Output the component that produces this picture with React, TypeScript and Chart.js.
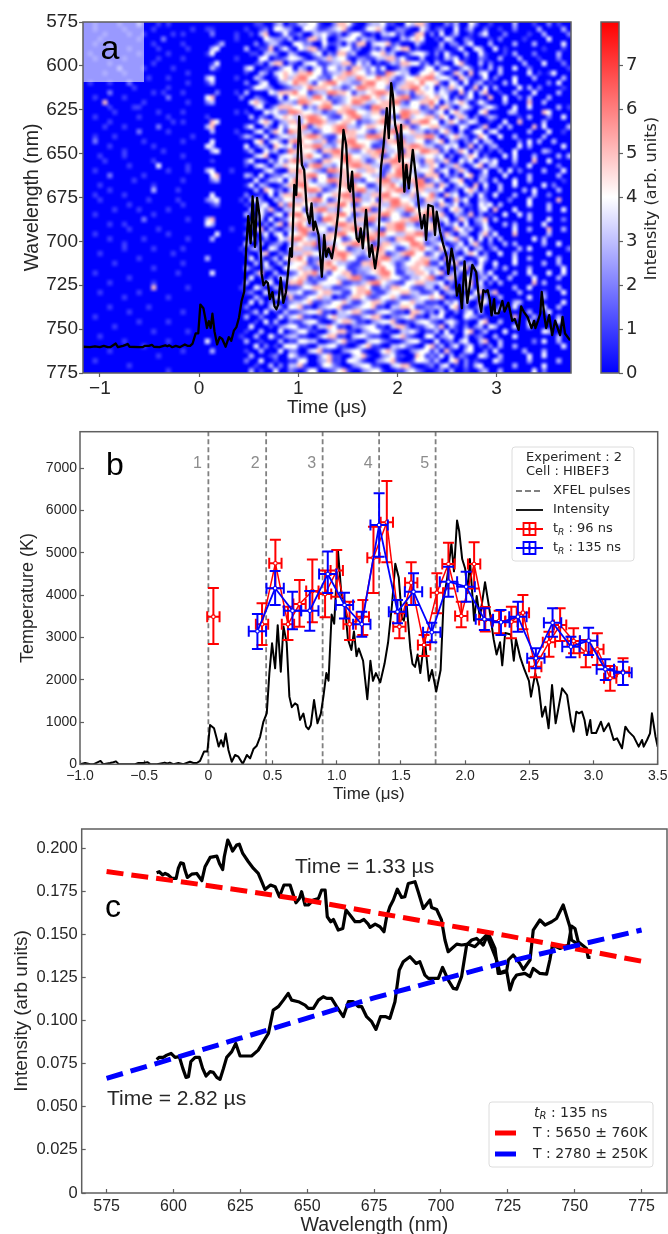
import React, { useEffect, useRef } from 'react';
import { Chart, registerables } from 'chart.js';

Chart.register(...registerables);

// ---------- shared intensity trace (panels a and b) ----------
const traceTime = [
  -1.17,-1.10,-1.05,-1,-.96,-.92,-.896,-.84,-.818,-.766,-.74,-.72,-.70,-.6,-.57,-.545,-.506,-.475,-.455,-.40,-.34,-.32,-.30,-.27,-.234,-.195,-.143,-.117,-.09,-.065,-.034,-.008,
  .013,.044,.065,.08,.099,.117,.135,.156,.182,.208,.234,.268,.30,.325,.351,.377,.403,.429,.455,.475,.496,.52,.54,.564,.585,.61,.631,.65,.675,.694,.714,.74,.761,.78,.798,.823,.85,.876,.896,
  .919,.936,.96,.98,1.01,1.037,1.06,1.087,1.114,1.134,1.154,1.171,1.205,1.238,1.262,1.282,1.305,1.339,1.372,1.40,1.43,1.456,1.483,1.507,1.523,1.543,1.573,1.59,1.61,1.63,1.651,1.684,1.718,1.742,1.775,1.809,1.833,1.859,1.893,1.913,1.937,1.954,1.977,2.0,2.02,2.037,2.07,2.09,2.115,2.155,2.188,2.222,2.245,2.272,2.289,2.312,2.356,2.379,2.396,2.43,2.463,2.497,
  2.513,2.546,2.573,2.6,2.625,2.65,2.677,2.705,2.755,2.794,2.825,2.845,2.866,2.887,2.91,2.93,2.949,2.975,2.985,3.02,3.058,3.08,3.118,3.157,3.183,3.222,3.248,3.274,3.313,3.352,3.378,3.391,3.417,3.44,3.455,3.483,3.5,3.53,3.56,3.59,3.64,3.665,3.69,3.74,
];
const traceIntensity = [
  10,0,20,0,30,0,0,80,0,30,50,70,10,0,0,30,30,50,10,0,40,20,40,0,30,0,60,30,30,80,300,300,
  930,850,610,420,570,420,730,340,60,220,180,10,220,140,360,440,650,1010,1210,2150,2860,2270,3290,2190,3260,2870,1600,1350,1440,1400,1050,1200,890,830,930,1520,970,1200,1600,
  2157,1975,3542,3323,5036,3980,3870,2959,2704,3141,2558,2740,2449,1538,2449,1975,2157,1939,2376,2886,3761,4745,4417,3469,3397,3834,2740,2376,2303,2595,2157,2996,1975,2230,1720,2230,3907,4380,5219,4563,5765,5510,4854,4630,4052,4854,3397,3980,3469,4307,3688,2959,2595,2886,2340,3105,3068,2449,2959,2522,2230,1975,
  1600,2151,1836,1127,1363,851,1875,969,1797,1639,1009,772,1245,1205,1245,1048,693,1048,740,740,1008,780,969,575,615,378,890,772,654,417,575,417,575,730,1205,654,417,700,262,580,262,662,300,153,
];
const traceBaselineNm = 760.3;
const traceNmPerCount = 0.0261;

// ---------- panel a ----------
const heatRows = [
  "00100001000200010100000 000000 0000 001100230 113344100255410023341100435520 002130042001 0000300010020100",
  "00100000100000100000001 001100 0000 100120443 200443112345100144530022100420 120040130020 0100200003000030",
  "00001000010010000010100 000200 0010 010350014 112003342120244101033412015502 040130010240 0020000100300002",
  "00010000000100002000000 000000 0010 000043221 301155240023441322011003245400 104300210001 0200001000040000",
  "00100100000000100000100 000013 0000 002013310 044220041120315503445120003100 030220240003 0000300030000040",
  "00000010010000010000010 000340 0000 300115024 104355120034412002130245501000 120014004300 4010000000100010",
  "01000000000100000100000 001400 0000 011033200 320013402155230014452300134420 204100300410 0010300020000300",
  "00100000100000010000100 000000 0010 000440112 443101235344102211335524100300 103240100210 0300030001000200",
  "00000100000000100000000 000140 0000 001203550 210344112335514230101325544120 310045100302 0000003000400020",
  "00000002000010000010000 000310 0000 340011024 403203414423155324140013200144 034102420103 0300400200000001",
  "00001000100000000000010 000000 0000 100320345 435564412335654423116543301445 420153050340 0300000401014000",
  "00000000000001000100000 003400 0010 003200145 356644221455336544655312445566 344205310140 2000400030000030",
  "01000100020000000000010 001300 0000 200340023 465531456643322566445123554644 510430402301 0030400000020400",
  "00000000001000000100000 000000 0000 014432001 233465554331246655442135566434 032534015040 3000040302000010",
  "00000200000000101000100 000020 0010 300004355 564412336655413345665422315544 243105140350 0100300040000300",
  "00100000100000000200000 004500 0002 002100140 445536641223455664534456612354 534020240105 0040020300030000",
  "00005000000010000000010 002300 0000 045310023 326654455123466533455662144556 403245301420 0030000500300000",
  "00000100001100000000000 000000 0000 003401355 544132566445533216655443344125 155203420134 2000400400000301",
  "00000010000000010000100 000000 0010 100043422 665443312255664435513446655321 340453100450 0003300000540000",
  "00100000000100000100000 001000 0000 030210345 433566542114566334455216634455 254035302013 2000010300020040",
  "00000100000000000010100 000540 0000 001453023 552466653345541223566443155664 403541243001 0040050000300000",
  "00001000100000020000000 003500 0000 240031042 445613544566332455443366512445 532104300250 0303000050400003",
  "00000000000200000100000 000300 0010 003402541 655331244566554421355664453312 145203014403 4000000300040010",
  "00100010000000000000001 000000 0001 320040134 334566521144553366655412335566 302453201540 0400300000300000",
  "00200000000010000000100 000400 0000 004503420 566443351255664443215566334412 450320214033 0000020403003000",
  "00000100000000100000000 004300 0000 401320543 414556633245566541123445566533 124340150302 3000040300000040",
  "00000000100000001000000 000340 0000 130042301 655443155664322455663341554665 513025403101 0200400000320000",
  "00010000100000000000100 000000 0000 003450034 433564412556644335512466553344 340201354020 0040400030000303",
  "00001000000000100000000 000100 0000 240003142 566332155446655312455664433155 235104240342 4000300050040000",
  "00000000010000040000010 000000 0000 103420335 444156633244566553321556644235 402352014503 3000100400000200",
  "00100000000000000100010 003400 0100 000034100 556443216655443355412466533445 134025300140 0304020000300040",
  "00000200000010000000000 000450 0000 320401224 335566441235566443315566442155 503120450230 0040000300000300",
  "00000000001000000000100 000230 0000 004013340 465531446655322144566334556612 420345010320 3000400300000010",
  "00010000000000100000000 000000 0000 140320013 556644332155664411355642236655 153024205040 0300400000402000",
  "00000100000000300001000 000000 0000 003054120 344566512344556633245566145533 340120453020 0300003040000300",
  "00100000100000000000000 000400 0000 200104035 566433144556621335566443352446 205340130410 4000300030020000",
  "00010000000001000001000 002340 0001 034200324 433556641245566334155664432155 340152400320 0002000400000500",
  "00000000010000000000100 000120 0000 101340052 655442335566412445533665541233 153240210434 0300000400030000",
  "00000010000100000100000 000000 0000 030425103 344155663324455661245533664455 320453010340 5000400000030040",
  "00100000000000100000000 000000 0000 300410340 566433245566412335566442135566 451032150201 0040040300000000",
  "00000000000020000000010 003500 0000 002304012 445533166544235566312445566341 234015302350 3000000300040020",
  "00000100100000000000000 004300 0000 140020350 556412334566553312445566331245 503240401240 0030300000400000",
  "00000000010000010000000 000000 0100 003503102 336655441235566443215566443345 320154230142 0000400300050030",
  "00100000000000000100000 000040 0000 200140340 445621335566442155664433556612 415203300351 4000500000030000",
  "00000100000010000000010 000300 0000 031020043 566433155441245566332155664423 203451140403 0300000040300000",
  "00000000100000000000000 000000 0000 400301220 334556123345566441255334466512 340124035102 0030300000300400",
  "00000000100000100000100 000000 0001 023004300 455332156644123356654411355643 154032402301 3000030400000002",
  "00010000000000000010000 000000 0000 100350021 233554411566533244551235664412 420310354020 0400300000040000",
  "00000000000100000000000 003000 0000 040201304 556412233556441125566332144553 305124001430 0000400300000300",
  "00000010000000000000100 000000 0000 003040130 344512556433211556644312445561 140350230410 4000400000300300",
  "00000000000000100000000 000000 0000 310032004 445331255644112335564412355433 302014503400 2030000300000040",
  "00100000000000000001000 000400 0000 002500300 124556331445512234566411335542 450231020314 0000300400040040",
  "00000000010000000000000 000000 0000 040102043 345512114433566211355442133456 103520430230 4003000040000300",
  "00000100000000100000000 000000 0000 300034001 556321344451122356643211445533 340201350402 0300000050300000",
  "00000000000000500000010 000000 0001 004200320 112445533112345541132554421133 035100430310 0000300400000300",
  "00010000000100000000000 000000 0000 120040015 334112455331145562113445533112 402320104502 5000030000200040",
  "00000000100000000100000 000000 0000 003100340 511244533011355421244531123445 450100342030 0300000400300000",
  "00000000000000000000000 000000 0000 040302001 233451122445311345531124453311 103240300540 0000330000000040",
  "00000100000001000000000 000000 0000 200003420 445110234451123445110335541122 320450201300 0300400000400300",
  "00000000010000000000100 000000 0000 013040103 112344511033455211344211055312 041020340300 4000000300040000",
  "00100000000000000000000 000000 0000 300200041 345110114533211345510223451103 340100432010 0000500030000300",
  "00000000000100000100000 000000 0000 001040300 211344100245531102344510113442 103420100450 0300000400000400",
  "00000010000000000000000 000000 0000 040001023 441120335411022344110355201134 250310202304 3000400300000000",
  "00000000000000100000010 000000 0000 100300040 124411003455110234411003342011 304010450130 0040000000430000",
  "00010000000000000000000 000000 0001 003004102 331100245511034421100345210044 023400301200 3000400000000300",
  "00000000100000000100000 004000 0000 300100030 114433001245110034421001344100 401203400350 0300000020400300",
  "00000000000010000000000 000000 0000 004020104 441100334411002451100334210045 130240240102 0300300000000040",
  "00000100000000000000100 000300 0000 100300040 220034511002344100145310023441 305100340020 4000003000300000",
  "00000000000000010000000 000000 0000 030001200 431100245110034510023411005412 140302100430 0300000400400000",
  "00100000000000000000000 000000 0000 200400100 114400235110443100234510014431 300450201000 4200000300000300",
  "00000000010000000000000 000000 0000 001003020 335100144210023441100345510012 034010203400 0000300000400000",
  "00000000000000000100000 000000 0000 030100400 210144001245100234410011342100 120300100230 0300000040200000",
];
const heatTimeRange = [-1.17, 3.75];
const heatNmRange = [575, 775];
const heatWhiteAt = 4;
const heatMax = 7.98;
const aTimeTicks = [-1, 0, 1, 2, 3];
const aTimeLabels = ['\u22121', '0', '1', '2', '3'];
const aNmTicks = [575, 600, 625, 650, 675, 700, 725, 750, 775];
const cbarTicks = [0, 1, 2, 3, 4, 5, 6, 7];
const cbarRange = [[0, heatMax]];

// ---------- panel b ----------
const pulseTimes = [0, 0.45, 0.89, 1.33, 1.77];
const pulseNames = ['1', '2', '3', '4', '5'];
const redTime = [.039,.418,.522,.62,.71,.81,.909,1.0,1.10,1.203,1.286,1.39,1.488,1.58,1.68,1.78,1.87,1.97,2.07,2.157,2.265,2.36,2.45,2.546,2.653,2.74,2.845,2.94,3.03,3.13,3.23];
const redTemp = [3490,3310,4752,3310,3790,4097,4027,4580,3310,3491,4886,5722,3255,4295,2821,4058,4737,3507,4737,3412,3388,3373,3586,2309,2884,3294,2916,2640,2719,2033,2190];
const redHigh = [4170,3806,5311,3727,4358,4840,4580,5068,3845,3885,5620,6699,3570,4776,3057,4516,5240,3845,5250,3720,3633,3727,4003,2545,3136,3688,3215,2939,3097,2325,2506];
const redLow = [2845,2821,4162,2939,3254,3357,3475,3963,2939,3057,4050,4776,2979,3767,2561,3570,4160,3239,4160,3140,3097,2979,3191,2057,2545,2916,2624,2293,2348,1742,1875];
const redHalfWidth = 0.048;
const blueTime = [.382,.52,.655,.79,.93,1.06,1.195,1.33,1.473,1.598,1.74,1.87,2.008,2.15,2.279,2.411,2.551,2.681,2.824,2.962,3.092,3.23];
const blueTemp = [3144,4162,3633,3633,4500,3767,3310,5658,3609,4082,3120,4319,4200,3428,3357,3491,2506,3349,2782,2924,2246,2167];
const blueHigh = [3554,4570,4082,4100,5030,4058,3610,6408,3885,4516,3349,4673,4555,3688,3648,3845,2742,3688,3018,3231,2482,2427];
const blueLow = [2727,3767,3191,3160,4050,3450,3018,4910,3333,3767,2884,3963,3845,3176,3057,3136,2270,3018,2530,2585,1994,1875];
const blueHalfWidth = 0.0675;
const bTimeTicks = [-1, -0.5, 0, 0.5, 1, 1.5, 2, 2.5, 3, 3.5];
const bTimeLabels = ['\u22121.0', '\u22120.5', '0', '0.5', '1.0', '1.5', '2.0', '2.5', '3.0', '3.5'];
const bTempTicks = [0, 1000, 2000, 3000, 4000, 5000, 6000, 7000];

// ---------- panel c ----------
const hotNm = [593.7,594.7,596,596.9,598.1,599.4,601,601.8,602.7,603.7,604.3,605.2,606.8,608.7,610.6,611.8,613.7,616.2,617.2,618.4,619,620.3,621.2,622.1,623.6,624.6,625.9,628,629.9,631.7,633,634.2,636.3,638,639.6,641.3,643.6,644.8,645.8,647.1,647.9,649.2,650.4,652.3,654.2,655.4,656.7,657.5,658.8,659.8,661.6,663.3,664.5,666,667.9,669.7,671.2,672.8,673.5,675.4,677.2,678.7,679.7,680.9,682.2,683.7,685.3,686.5,687.8,690.3,691.5,693.4,695.9,696.5,698.4,700.2,701.5,702.7,705.9,707.7,710.2,712.7,717.1,720.8,722.1,724.6,725.8,727,728.3,731.4,733.3,734.5,737,739.5,740.7,741.7,744.5,747.6,748.8,750.1,751.3,754.4,755,755.9];
const hotI = [.1858,.1864,.1845,.1854,.1845,.1825,.1825,.1883,.1916,.1912,.1874,.1831,.185,.1854,.1812,.1893,.1947,.1955,.1912,.1877,.1951,.2048,.2019,.1984,.2019,.2024,.197,.1922,.1883,.1854,.1806,.1761,.1787,.1777,.1719,.1787,.1787,.1729,.1684,.1709,.1748,.1671,.1671,.17,.1709,.1758,.1758,.1603,.1574,.1587,.1526,.1535,.1642,.1613,.1574,.1574,.1587,.156,.1541,.156,.1545,.1516,.1603,.1661,.17,.1763,.1715,.1719,.1796,.1806,.1748,.1651,.17,.1657,.1645,.1584,.1468,.14,.1444,.1439,.1444,.1429,.1497,.1352,.1274,.1284,.1178,.1236,.1265,.1274,.1255,.1303,.1274,.127,.1352,.1439,.1419,.1439,.1549,.1535,.1458,.1419,.1367,.1367];
const coolNm = [593.7,594.7,596.2,597.5,599.1,600.6,602.2,603.5,604.7,605.6,606.5,608.1,609.7,610.9,612.2,613.7,614.9,616.2,617.4,618.7,619.9,621.8,623.3,624.9,627.4,629.2,631.7,633.6,635.5,637.3,639.2,641.1,642.9,644.2,646.7,649.2,650.4,652.3,654.2,656,657.3,659.1,661,663.5,665.4,667.2,669.1,670.4,672.2,674.1,675.7,677.4,679.4,680.9,682.8,684.4,685.9,688.4,690.7,692.1,694,695.3,699,700.6,702.7,704.6,705.9,707.7,709.6,711.5,713.3,715.8,717.7,720.2,721.4,724.6,725.2,727,729.5,730.8,733.3,734.5,737,738.9,741.4,743.2,745.7,748.2,748.8,750.7];
const coolI = [.0775,.0787,.0787,.08,.081,.0787,.0791,.0723,.0671,.0675,.0762,.0787,.0787,.0723,.0679,.0704,.07,.0671,.0659,.0723,.0787,.082,.0868,.0795,.0795,.0795,.0829,.0878,.0926,.1061,.1081,.1119,.1158,.1119,.111,.109,.1071,.1071,.1119,.1139,.1129,.1129,.1081,.1023,.111,.111,.1081,.1081,.1023,.0994,.0949,.1023,.1023,.1013,.111,.1293,.1342,.1371,.1332,.1342,.1264,.1245,.1245,.1309,.1236,.1187,.1183,.1255,.1439,.1468,.1477,.1439,.1506,.1419,.1274,.1293,.1352,.1381,.1332,.1297,.1352,.1525,.1584,.1555,.1574,.1593,.1671,.1545,.1468,.1448];
const fitNm = [575, 600, 625, 650, 675, 700, 725, 750, 775];
const hotFit = [.1865,.1812,.1757,.1698,.1628,.156,.1492,.1418,.1345];
const coolFit = [.0665,.0781,.0898,.1015,.1132,.1238,.1342,.1434,.1526];
const cNmTicks = [575, 600, 625, 650, 675, 700, 725, 750, 775];
const cITicks = [0, .025, .05, .075, .1, .125, .15, .175, .2];
const cILabels = ['0', '0.025', '0.050', '0.075', '0.100', '0.125', '0.150', '0.175', '0.200'];

// ---------- helpers ----------
const SANS = '"Liberation Sans", Arial, sans-serif';
const DEJA = '"DejaVu Sans", sans-serif';
const INK = '#262626';
const SPINE = '#5f5f5f';
const pts = (xs: number[], ys: number[]) => xs.map((x, i) => ({ x, y: ys[i] }));

function xAxis(o: any) {
  return {
    type: 'linear', position: 'bottom', min: o.min, max: o.max,
    afterFit: (s: any) => { s.height = o.height; s.paddingLeft = 0; s.paddingRight = 0; },
    afterBuildTicks: (s: any) => { s.ticks = o.ticks.map((value: number) => ({ value })); },
    grid: { display: true, drawOnChartArea: false, drawTicks: true, tickLength: o.tick, tickColor: SPINE, tickWidth: 1.2, color: SPINE },
    border: { display: false },
    ticks: {
      autoSkip: false, maxRotation: 0, minRotation: 0, color: INK, padding: o.gap - o.tick,
      font: { family: o.family || SANS, size: o.size },
      callback: (_: any, i: number) => (o.labels ? o.labels[i] : String(o.ticks[i])),
    },
    title: o.title ? {
      display: true, text: o.title, color: INK, font: { family: SANS, size: o.titleSize },
      padding: { top: 0, bottom: o.height - o.titleCenter - (o.titleSize * 1.2) / 2 },
    } : { display: false },
  };
}
function yAxis(o: any) {
  return {
    type: 'linear', position: 'left', min: o.min, max: o.max, reverse: !!o.reverse,
    afterFit: (s: any) => { s.width = o.width; s.paddingTop = 0; s.paddingBottom = 0; },
    afterBuildTicks: (s: any) => { s.ticks = o.ticks.map((value: number) => ({ value })); },
    grid: { display: true, drawOnChartArea: false, drawTicks: true, tickLength: o.tick, tickColor: SPINE, tickWidth: 1.2, color: SPINE },
    border: { display: false },
    ticks: {
      autoSkip: false, maxRotation: 0, minRotation: 0, color: INK, padding: o.gap - o.tick,
      font: { family: SANS, size: o.size },
      callback: (_: any, i: number) => (o.labels ? o.labels[i] : String(o.ticks[i])),
    },
    title: {
      display: true, text: o.title, color: INK, font: { family: SANS, size: o.titleSize },
      padding: { top: o.titleCenter - (o.titleSize * 1.2) / 2, bottom: 0 },
    },
  };
}
const framePlugin = {
  id: 'frame',
  afterDraw(chart: any) {
    const { ctx, chartArea: a } = chart;
    ctx.save();
    ctx.strokeStyle = SPINE;
    ctx.lineWidth = 1.5;
    ctx.strokeRect(a.left, a.top, a.width, a.height);
    ctx.restore();
  },
};
function label(ctx: any, text: string, x: number, y: number, font: string, color = '#000', align = 'left') {
  ctx.font = font;
  ctx.fillStyle = color;
  ctx.textAlign = align;
  ctx.textBaseline = 'middle';
  ctx.fillText(text, x, y);
}
function legendBox(ctx: any, x: number, y: number, w: number, h: number) {
  ctx.beginPath();
  ctx.roundRect(x, y, w, h, 3);
  ctx.fillStyle = 'rgba(255,255,255,0.85)';
  ctx.fill();
  ctx.strokeStyle = '#dcdcdc';
  ctx.lineWidth = 1;
  ctx.stroke();
}
function tR(ctx: any, x: number, y: number, size: number, italic: boolean, rest: string) {
  const f = (italic ? 'italic ' : '') + size + 'px ' + DEJA;
  label(ctx, 't', x, y, f, INK);
  let cx = x + ctx.measureText('t').width;
  const sub = 'italic ' + Math.round(size * 0.7) + 'px ' + DEJA;
  label(ctx, 'R', cx, y + size * 0.25, sub, INK);
  cx += ctx.measureText('R').width;
  label(ctx, rest, cx, y, size + 'px ' + DEJA, INK);
}
const options = (scales: any, layout: any) => ({
  responsive: false, animation: false, events: [], devicePixelRatio: 1,
  layout: { padding: layout }, scales,
  plugins: { legend: { display: false }, tooltip: { enabled: false }, title: { display: false } },
});

// ---------- panel a plugin ----------
const heatPlugin = {
  id: 'heat',
  beforeDatasetsDraw(chart: any) {
    const { ctx, chartArea: a, scales: { x, y } } = chart;
    const rows = heatRows.map((r) => r.replace(/ /g, ''));
    const nr = rows.length;
    const nc = Math.max(...rows.map((r) => r.length));
    const off = document.createElement('canvas');
    off.width = nc; off.height = nr;
    const o: any = off.getContext('2d');
    const img = o.createImageData(nc, nr);
    rows.forEach((row, r) => {
      for (let c = 0; c < nc; c++) {
        const v = Number(row[Math.min(c, row.length - 1)]);
        const k = (r * nc + c) * 4;
        const low = v <= heatWhiteAt;
        const t = low ? v / heatWhiteAt : (heatMax - v) / (heatMax - heatWhiteAt);
        img.data[k] = low ? 255 * t : 255;
        img.data[k + 1] = 255 * t;
        img.data[k + 2] = low ? 255 : 255 * t;
        img.data[k + 3] = 255;
      }
    });
    o.putImageData(img, 0, 0);
    ctx.save();
    ctx.beginPath(); ctx.rect(a.left, a.top, a.width, a.height); ctx.clip();
    ctx.imageSmoothingEnabled = true;
    ctx.imageSmoothingQuality = 'high';
    const x0 = x.getPixelForValue(heatTimeRange[0]);
    const x1 = x.getPixelForValue(heatTimeRange[1]);
    const y0 = y.getPixelForValue(heatNmRange[0]);
    const y1 = y.getPixelForValue(heatNmRange[1]);
    ctx.drawImage(off, x0, y0, x1 - x0, y1 - y0);
    ctx.fillStyle = 'rgba(255,255,255,0.6)';
    ctx.fillRect(x0, y0, x.getPixelForValue(-0.555) - x0, y.getPixelForValue(609.2) - y0);
    ctx.restore();
    label(ctx, 'a', 110, 50, '34px ' + SANS, '#000', 'center');
  },
};

// ---------- colour bar plugin ----------
const cbarTitlePlugin = {
  id: 'cbarTitle',
  afterDraw(chart: any) {
    const { ctx, chartArea: a } = chart;
    ctx.save();
    ctx.translate(652 - 590, (a.top + a.bottom) / 2 + 1);
    ctx.rotate(-Math.PI / 2);
    label(ctx, 'Intensity (arb. units)', 0, 0, '16px ' + DEJA, INK, 'center');
    ctx.restore();
  },
};

// ---------- panel b plugins ----------
const errorBarPlugin = {
  id: 'errs',
  beforeDatasetDraw(chart: any, args: any) {
    const ds = chart.data.datasets[args.index];
    if (!ds.errs) return;
    const { ctx, scales: { x, y } } = chart;
    ctx.save();
    ctx.strokeStyle = ds.borderColor;
    ctx.lineWidth = 2;
    ds.data.forEach((p: any, i: number) => {
      const px = x.getPixelForValue(p.x);
      const py = y.getPixelForValue(p.y);
      const xa = x.getPixelForValue(p.x - ds.errs.half);
      const xb = x.getPixelForValue(p.x + ds.errs.half);
      const ya = y.getPixelForValue(ds.errs.high[i]);
      const yb = y.getPixelForValue(ds.errs.low[i]);
      const cap = 5.5;
      ctx.beginPath();
      ctx.moveTo(px, ya); ctx.lineTo(px, yb);
      ctx.moveTo(px - cap, ya); ctx.lineTo(px + cap, ya);
      ctx.moveTo(px - cap, yb); ctx.lineTo(px + cap, yb);
      ctx.moveTo(xa, py); ctx.lineTo(xb, py);
      ctx.moveTo(xa, py - cap); ctx.lineTo(xa, py + cap);
      ctx.moveTo(xb, py - cap); ctx.lineTo(xb, py + cap);
      ctx.stroke();
    });
    ctx.restore();
  },
};
const bDecorPlugin = {
  id: 'bDecor',
  afterDraw(chart: any) {
    const { ctx, scales: { x } } = chart;
    ctx.save();
    label(ctx, 'b', 115, 46, '32px ' + SANS, '#000', 'center');
    pulseNames.forEach((n, i) => {
      label(ctx, n, x.getPixelForValue(pulseTimes[i]) - 11, 43.5, '16px ' + SANS, '#8c8c8c', 'center');
    });
    // legend (canvas top is page y 420)
    legendBox(ctx, 512, 27, 122, 114);
    const f = '13px ' + DEJA;
    label(ctx, 'Experiment : 2', 526, 38, f, INK);
    label(ctx, 'Cell : HIBEF3', 526, 52, f, INK);
    ctx.lineWidth = 1.8;
    ctx.strokeStyle = '#808080';
    ctx.setLineDash([6, 3]);
    ctx.beginPath(); ctx.moveTo(516, 71); ctx.lineTo(543, 71); ctx.stroke();
    ctx.setLineDash([]);
    label(ctx, 'XFEL pulses', 553, 71, f, INK);
    ctx.strokeStyle = '#000';
    ctx.beginPath(); ctx.moveTo(516, 90); ctx.lineTo(543, 90); ctx.stroke();
    label(ctx, 'Intensity', 553, 90, f, INK);
    [['#ff0000', 109, ' : 96 ns'], ['#0000ff', 128, ' : 135 ns']].forEach(([c, yy, t]: any) => {
      ctx.strokeStyle = c;
      ctx.lineWidth = 1.8;
      ctx.beginPath();
      ctx.moveTo(516, yy); ctx.lineTo(543, yy);
      ctx.moveTo(529.5, yy - 6); ctx.lineTo(529.5, yy + 6);
      ctx.rect(523.5, yy - 6, 12, 12);
      ctx.stroke();
      ctx.beginPath(); ctx.arc(529.5, yy, 1.8, 0, Math.PI * 2);
      ctx.fillStyle = c; ctx.fill();
      tR(ctx, 553, yy, 13, false, t);
    });
    ctx.restore();
  },
};

// ---------- panel c plugin ----------
const cDecorPlugin = {
  id: 'cDecor',
  afterDraw(chart: any) {
    const { ctx } = chart;
    ctx.save();
    label(ctx, 'c', 113, 88, '32px ' + SANS, '#000', 'center');
    label(ctx, 'Time = 1.33 \u00b5s', 295, 47, '21px ' + SANS, INK);
    label(ctx, 'Time = 2.82 \u00b5s', 107, 279, '21px ' + SANS, INK);
    legendBox(ctx, 489, 282, 164, 65);
    const f = '14px ' + DEJA;
    tR(ctx, 534, 293, 14, true, ' : 135 ns');
    ctx.lineWidth = 5;
    ctx.strokeStyle = '#ff0000';
    ctx.beginPath(); ctx.moveTo(495, 313); ctx.lineTo(516, 313); ctx.stroke();
    label(ctx, 'T : 5650 \u00b1 760K', 533, 313, f, INK);
    ctx.strokeStyle = '#0000ff';
    ctx.beginPath(); ctx.moveTo(495, 334); ctx.lineTo(516, 334); ctx.stroke();
    label(ctx, 'T : 2780 \u00b1 250K', 533, 334, f, INK);
    ctx.restore();
  },
};

function useChart(make: (c: HTMLCanvasElement) => any) {
  const ref = useRef<HTMLCanvasElement | null>(null);
  useEffect(() => {
    const chart = make(ref.current as HTMLCanvasElement);
    return () => chart.destroy();
  }, []);
  return ref;
}

export default function App() {
  const aRef = useChart((c) => new Chart(c, {
    type: 'scatter',
    data: {
      datasets: [{
        data: traceTime.map((t, i) => ({ x: t, y: traceBaselineNm - traceIntensity[i] * traceNmPerCount })),
        showLine: true, borderColor: '#000', borderWidth: 2.3, pointRadius: 0, borderJoinStyle: 'round',
      }],
    },
    options: options({
      x: xAxis({ min: heatTimeRange[0], max: heatTimeRange[1], height: 47, ticks: aTimeTicks, labels: aTimeLabels, tick: 4, gap: 4, size: 19, title: 'Time (\u03bcs)', titleSize: 19, titleCenter: 35 }),
      y: yAxis({ min: heatNmRange[0], max: heatNmRange[1], reverse: true, width: 83, ticks: aNmTicks, tick: 4, gap: 5, size: 19, title: 'Wavelength (nm)', titleSize: 19.5, titleCenter: 33 }),
    }, { top: 22, right: 97, left: 0, bottom: 0 }),
    plugins: [heatPlugin, framePlugin],
  } as any));

  const cbRef = useChart((c) => new Chart(c, {
    type: 'bar',
    data: {
      labels: [''],
      datasets: [{
        data: cbarRange, barPercentage: 1, categoryPercentage: 1, borderWidth: 0,
        backgroundColor: (ctx: any) => {
          const a = ctx.chart.chartArea;
          if (!a) return '#fff';
          const g = ctx.chart.ctx.createLinearGradient(0, a.bottom, 0, a.top);
          g.addColorStop(0, '#0000ff');
          g.addColorStop(heatWhiteAt / heatMax, '#ffffff');
          g.addColorStop(1, '#ff0000');
          return g;
        },
      }],
    },
    options: options({
      x: { type: 'category', display: false },
      y: {
        type: 'linear', position: 'right', min: 0, max: heatMax,
        afterFit: (s: any) => { s.width = 49; s.paddingTop = 0; s.paddingBottom = 0; },
        afterBuildTicks: (s: any) => { s.ticks = cbarTicks.map((value) => ({ value })); },
        grid: { display: true, drawOnChartArea: false, drawTicks: true, tickLength: 4, tickColor: SPINE, tickWidth: 1.2, color: SPINE },
        border: { display: false },
        ticks: { color: INK, padding: 3, autoSkip: false, font: { family: DEJA, size: 18 }, callback: (v: any) => String(v) },
      },
    }, { top: 22, left: 11, right: 0, bottom: 47 }),
    plugins: [framePlugin, cbarTitlePlugin],
  } as any));

  const bRef = useChart((c) => new Chart(c, {
    type: 'scatter',
    data: {
      datasets: [
        ...pulseTimes.map((t) => ({
          data: [{ x: t, y: 0 }, { x: t, y: 7865 }], showLine: true, order: 5,
          borderColor: '#808080', borderWidth: 1.8, borderDash: [5, 3], pointRadius: 0,
        })),
        { data: pts(traceTime, traceIntensity), showLine: true, order: 4, borderColor: '#000', borderWidth: 2, pointRadius: 0, borderJoinStyle: 'round' },
        {
          data: pts(redTime, redTemp), showLine: true, order: 3, borderColor: '#ff0000', borderWidth: 1.5,
          segment: { borderColor: (s: any) => (s.p0DataIndex === 0 ? 'transparent' : undefined) },
          pointRadius: 1.8, pointBackgroundColor: '#fff', pointBorderColor: '#ff0000', pointBorderWidth: 1.1,
          errs: { half: redHalfWidth, high: redHigh, low: redLow },
        },
        {
          data: pts(blueTime, blueTemp), showLine: true, order: 2, borderColor: '#0000ff', borderWidth: 1.8,
          pointRadius: 1.8, pointBackgroundColor: '#fff', pointBorderColor: '#0000ff', pointBorderWidth: 1.1,
          errs: { half: blueHalfWidth, high: blueHigh, low: blueLow },
        },
      ],
    },
    options: options({
      x: xAxis({ min: -1, max: 3.5, height: 55.7, ticks: bTimeTicks, labels: bTimeLabels, tick: -4, gap: 3, size: 14, title: 'Time (\u03bcs)', titleSize: 17, titleCenter: 30 }),
      y: yAxis({ min: 0, max: 7865, width: 80, ticks: bTempTicks, tick: -4, gap: 3, size: 14, title: 'Temperature (K)', titleSize: 18, titleCenter: 28 }),
    }, { top: 11.7, right: 10.3, left: 0, bottom: 0 }),
    plugins: [errorBarPlugin, framePlugin, bDecorPlugin],
  } as any));

  const cRef = useChart((c) => new Chart(c, {
    type: 'scatter',
    data: {
      datasets: [
        { data: pts(hotNm, hotI), showLine: true, order: 4, borderColor: '#000', borderWidth: 3.2, pointRadius: 0, borderJoinStyle: 'round' },
        { data: pts(coolNm, coolI), showLine: true, order: 3, borderColor: '#000', borderWidth: 3.2, pointRadius: 0, borderJoinStyle: 'round' },
        { data: pts(fitNm, hotFit), showLine: true, order: 2, borderColor: '#ff0000', borderWidth: 5, borderDash: [17, 8], pointRadius: 0 },
        { data: pts(fitNm, coolFit), showLine: true, order: 1, borderColor: '#0000ff', borderWidth: 5, borderDash: [17, 8], pointRadius: 0 },
      ],
    },
    options: options({
      x: xAxis({ min: 565.7, max: 784.5, height: 41, ticks: cNmTicks, tick: -4, gap: 4, size: 16, title: 'Wavelength (nm)', titleSize: 19.5, titleCenter: 33 }),
      y: yAxis({ min: 0, max: 0.2112, width: 81.7, ticks: cITicks, labels: cILabels, tick: -4, gap: 4, size: 16.5, title: 'Intensity (arb units)', titleSize: 19, titleCenter: 22 }),
    }, { top: 9, right: 1, left: 0, bottom: 0 }),
    plugins: [framePlugin, cDecorPlugin],
  } as any));

  const abs = (left: number, top: number): React.CSSProperties => ({ position: 'absolute', left, top, display: 'block' });
  return (
    <div style={{ position: 'absolute', left: 0, top: 0, width: 668, height: 1234, background: '#fff', overflow: 'hidden' }}>
      <canvas ref={aRef} width={668} height={420} style={abs(0, 0)} />
      <canvas ref={cbRef} width={78} height={420} style={abs(590, 0)} />
      <canvas ref={bRef} width={668} height={400} style={abs(0, 420)} />
      <canvas ref={cRef} width={668} height={414} style={abs(0, 820)} />
    </div>
  );
}
